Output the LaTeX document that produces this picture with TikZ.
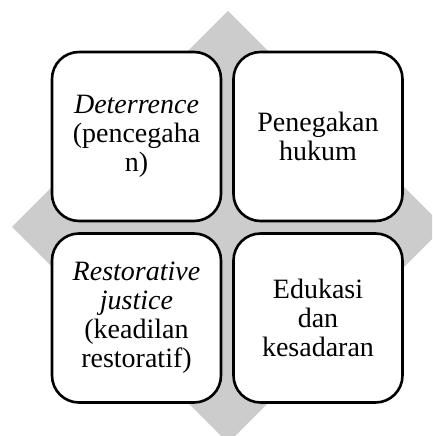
\documentclass[tikz,border=0pt]{standalone}
\usepackage{fontspec}
\setmainfont{Liberation Serif}
\definecolor{diam}{RGB}{204,204,204}
\tikzset{
  quad/.style={draw=black, line width=2.6pt, fill=white, rounded corners=27pt,
    minimum width=169pt, minimum height=169pt, inner sep=0pt, align=center,
    font=\fontsize{28}{29}\selectfont}
}
\begin{document}
\begin{tikzpicture}[x=1pt,y=1pt]
\useasboundingbox (0,0) rectangle (432,436);
\begin{scope}
\clip (0,0) rectangle (432,436);
\fill[diam] (228,425) -- (444,209) -- (228,-7) -- (12,209) -- cycle;
\end{scope}
\node[quad] (tl) at (136.5,299.5) {\textit{Deterrence}\\(pencegaha\\n)};
\node[quad] (tr) at (318,299.5) {Penegakan\\hukum};
\node[quad] (bl) at (136.5,118) {\textit{Restorative}\\\textit{justice}\\(keadilan\\restoratif)};
\node[quad] (br) at (318,118) {Edukasi\\dan\\kesadaran};
\end{tikzpicture}
\end{document}
